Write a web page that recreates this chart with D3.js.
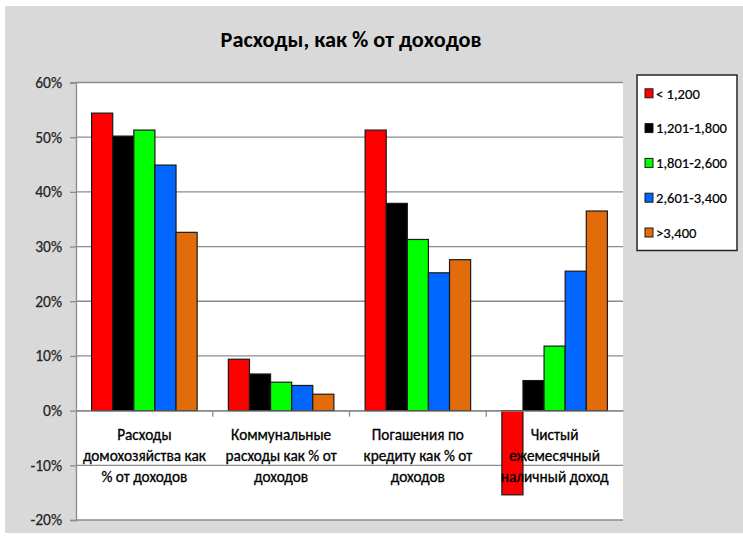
<!DOCTYPE html>
<html>
<head>
<meta charset="utf-8">
<script src="https://cdn.jsdelivr.net/npm/d3@7"></script>
<style>
  html, body { margin: 0; padding: 0; background: #ffffff; }
  svg { display: block; }
  text { font-family: Carlito, "Liberation Sans Narrow", "DejaVu Sans Condensed", "Open Sans", sans-serif; }
</style>
</head>
<body>
<svg id="chart" width="743" height="539"></svg>
<script>
const title = "Расходы, как % от доходов";
const categories = ["c1", "c2", "c3", "c4"];
const categoryLabels = [
  ["Расходы", "домохозяйства как", "% от доходов"],
  ["Коммунальные", "расходы как % от", "доходов"],
  ["Погашения по", "кредиту как % от", "доходов"],
  ["Чистый", "ежемесячный", "наличный доход"]
];
const seriesNames = ["< 1,200", "1,201-1,800", "1,801-2,600", "2,601-3,400", ">3,400"];
const seriesColors = ["#ff0000", "#000000", "#00ff00", "#0066ff", "#e36c0a"];
const valsUnder1200 = [0.544, 0.094, 0.513, -0.154];
const vals1201_1800 = [0.502, 0.067, 0.379, 0.055];
const vals1801_2600 = [0.513, 0.052, 0.313, 0.118];
const vals2601_3400 = [0.449, 0.046, 0.252, 0.255];
const valsOver3400 = [0.326, 0.030, 0.276, 0.365];
const yTicks = [-0.2, -0.1, 0, 0.1, 0.2, 0.3, 0.4, 0.5, 0.6];

const seriesValues = [valsUnder1200, vals1201_1800, vals1801_2600, vals2601_3400, valsOver3400];

const svg = d3.select("#chart");

// chart background
svg.append("rect").attr("x", 5).attr("y", 6).attr("width", 738).attr("height", 527).attr("fill", "#d9d9d9");

const plot = { left: 76, right: 623, top: 82.5, bottom: 520 };
svg.append("rect").attr("x", plot.left).attr("y", plot.top)
  .attr("width", plot.right - plot.left).attr("height", plot.bottom - plot.top).attr("fill", "#ffffff");

const y = d3.scaleLinear().domain([-0.2, 0.6]).range([plot.bottom, plot.top]);
const x0 = d3.scaleBand().domain(categories).range([plot.left, plot.right]).paddingInner(0).paddingOuter(0);
const x1 = d3.scaleBand().domain(d3.range(seriesNames.length)).range([0, x0.bandwidth()]).paddingInner(0).paddingOuter(0.74);

// gridlines
svg.append("g").selectAll("line").data(yTicks).join("line")
  .attr("x1", plot.left).attr("x2", plot.right)
  .attr("y1", d => y(d)).attr("y2", d => y(d))
  .attr("stroke", "#8c8c8c").attr("stroke-width", 1.3);

// y axis
const pct = d3.format(".0%");
const yAxis = d3.axisLeft(y).tickValues(yTicks).tickFormat(d => pct(d).replace("\u2212", "-")).tickSize(6).tickPadding(8);
const gy = svg.append("g").attr("transform", `translate(${plot.left},0)`).call(yAxis);
gy.select(".domain").attr("stroke", "#8c8c8c").attr("stroke-width", 1.3);
gy.selectAll(".tick line").attr("stroke", "#8c8c8c").attr("stroke-width", 1.3);
gy.selectAll(".tick text").attr("fill", "#262626").attr("stroke", "#262626").attr("stroke-width", 0.25).style("font-size", "15.5px");

// bars
const groups = svg.append("g").selectAll("g").data(categories).join("g")
  .attr("transform", d => `translate(${x0(d)},0)`);
groups.selectAll("rect")
  .data((c, ci) => seriesValues.map((vals, si) => ({ si, v: vals[ci] })))
  .join("rect")
  .attr("x", d => x1(d.si))
  .attr("width", x1.bandwidth())
  .attr("y", d => y(Math.max(0, d.v)))
  .attr("height", d => Math.abs(y(d.v) - y(0)))
  .attr("fill", d => seriesColors[d.si])
  .attr("stroke", "#1a1a1a").attr("stroke-width", 1.2);

// x axis at zero
const xAxis = d3.axisBottom(x0).tickSize(0).tickFormat("");
const gx = svg.append("g").attr("transform", `translate(0,${y(0)})`).call(xAxis);
gx.select(".domain").attr("stroke", "#8c8c8c").attr("stroke-width", 1.3);
// boundary ticks
svg.append("g").selectAll("line").data(categories.slice(1)).join("line")
  .attr("x1", d => x0(d)).attr("x2", d => x0(d))
  .attr("y1", y(0)).attr("y2", y(0) + 6)
  .attr("stroke", "#8c8c8c").attr("stroke-width", 1.3);

// category labels
const lbl = svg.append("g").selectAll("text").data(categories).join("text")
  .attr("text-anchor", "middle")
  .attr("fill", "#000").attr("stroke", "#000").attr("stroke-width", 0.3)
  .style("font-size", "15.3px");
lbl.each(function (d, i) {
  const t = d3.select(this);
  categoryLabels[i].forEach((line, li) => {
    t.append("tspan").attr("x", x0(d) + x0.bandwidth() / 2).attr("y", 440 + li * 21).text(line);
  });
});

// title
svg.append("text").attr("x", 351).attr("y", 46.5).attr("text-anchor", "middle")
  .style("font-size", "22.3px").style("font-weight", "bold").attr("fill", "#000").text(title);

// legend
const legend = svg.append("g");
legend.append("rect").attr("x", 637).attr("y", 75).attr("width", 100).attr("height", 175.5)
  .attr("fill", "#fff").attr("stroke", "#262626").attr("stroke-width", 1.5);
const items = legend.selectAll("g.item").data(seriesNames).join("g")
  .attr("transform", (d, i) => `translate(645,${93.3 + i * 34.8})`);
items.append("rect").attr("x", 0).attr("y", -4.5).attr("width", 8).attr("height", 9)
  .attr("fill", (d, i) => seriesColors[i]).attr("stroke", "#1a1a1a").attr("stroke-width", 1);
items.append("text").attr("x", 11).attr("y", 5.2).style("font-size", "14.6px")
  .attr("fill", "#000").attr("stroke", "#000").attr("stroke-width", 0.2).text(d => d);
</script>
</body>
</html>
